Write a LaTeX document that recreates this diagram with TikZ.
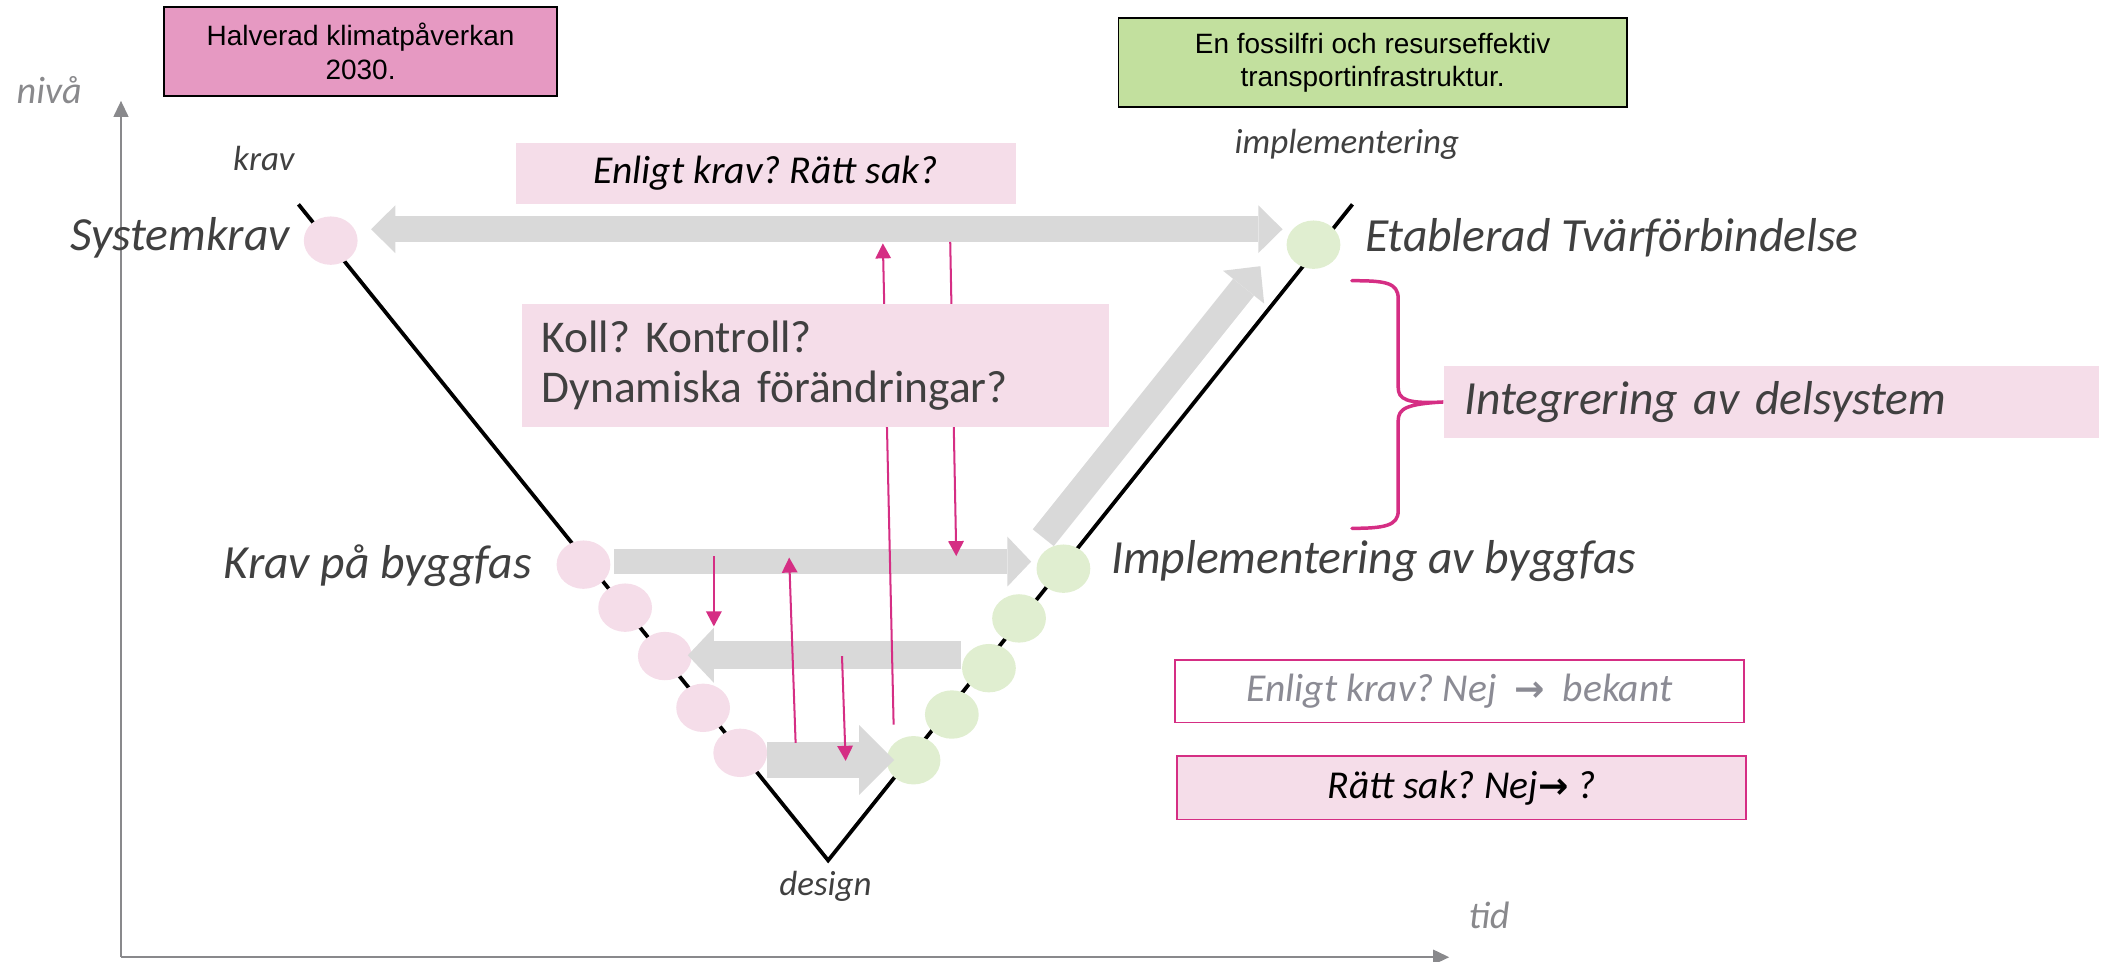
\documentclass[tikz,border=0pt]{standalone}
\usepackage{fontspec}
\setmainfont{Carlito}
\newfontfamily\arialfont{Liberation Sans}
\newfontfamily\arrowfont{DejaVu Sans}
\usepackage{tikz}
\usetikzlibrary{arrows.meta, shapes.geometric, positioning}
\frenchspacing

\definecolor{reqpink}{RGB}{245,221,233}
\definecolor{imppale}{RGB}{224,238,208}
\definecolor{goalpink}{RGB}{230,153,194}
\definecolor{goalgreen}{RGB}{194,224,158}
\definecolor{flowgray}{RGB}{217,217,217}
\definecolor{checkred}{RGB}{213,46,132}
\definecolor{axisgray}{RGB}{137,137,140}
\definecolor{labelgray}{RGB}{64,64,64}
\definecolor{hintgray}{RGB}{139,139,148}

\newcommand{\nejarrow}{{\arrowfont\bfseries\fontsize{13.5}{14}\selectfont →}}

\begin{document}
\begin{tikzpicture}[x=0.5pt, y=-0.5pt,
	reqdot/.style={ellipse, fill=reqpink, minimum width=20pt, minimum height=18pt, inner sep=0pt, outer sep=0pt},
	impdot/.style={reqdot, fill=imppale},
	phase/.style={inner sep=0pt, text=labelgray, font=\fontsize{17.7}{20}\selectfont\itshape},
	corner/.style={inner sep=0pt, text=labelgray, font=\fontsize{13}{15}\selectfont\itshape},
	axislabel/.style={inner sep=0pt, text=axisgray, font=\fontsize{14.2}{17}\selectfont\itshape},
	goal/.style={draw=black, line width=0.6pt, align=center, inner sep=0pt, font=\arialfont\fontsize{10.4}{12.4}\selectfont},
	question/.style={fill=reqpink, inner sep=0pt, font=\fontsize{14.7}{17}\selectfont\itshape},
	verdict/.style={question, draw=checkred, line width=0.6pt},
	flow/.style n args={3}{draw=flowgray, line width=#1, >={Triangle[width=#2, length=#3, line width=0pt]}, ->},
	check/.style={draw=checkred, line width=0.75pt, -{Triangle[width=5.7pt, length=5.6pt]}},
	axis/.style={draw=axisgray, line width=0.8pt, -{Triangle[width=5.5pt, length=6pt]}},
	vline/.style={draw=black, line width=1.4pt},
	brace/.style={draw=checkred, line width=1.3pt, line cap=round}]
	\useasboundingbox (0,0) rectangle (1568,715);

	\coordinate (origin) at (90,712);
	\coordinate (ytop) at (90,75);
	\coordinate (xend) at (1078,712);
	\draw[axis] (origin) -- (ytop);
	\draw[axis] (origin) -- (xend);
	\node[axislabel, anchor=base west] (niva) at (12,77) {nivå};
	\node[axislabel, anchor=base west] (tid) at (1092,691) {tid};

	\coordinate (vtopl) at (222,152);
	\coordinate (vbottom) at (616,640);
	\coordinate (vtopr) at (1006,152);
	\draw[vline] (vtopl) -- (vbottom) -- (vtopr);

	\node[reqdot] (sk) at (246,179) {};
	\node[reqdot] (r1) at (434,420) {};
	\node[reqdot] (r2) at (465,452) {};
	\node[reqdot] (r3) at (494.5,488) {};
	\node[reqdot] (r4) at (523,526.5) {};
	\node[reqdot] (r5) at (550.6,560) {};
	\node[impdot] (et) at (977,182) {};
	\node[impdot] (i1) at (791,423) {};
	\node[impdot] (i2) at (758,460) {};
	\node[impdot] (i3) at (735.6,497) {};
	\node[impdot] (i4) at (708,531.5) {};
	\node[impdot] (i5) at (679.5,565.5) {};

	\draw[flow={9.5pt}{17.75pt}{9pt}, <->] ([shift={(10,-8.5)}]sk.east) -- ([shift={(-3,-11.5)}]et.west);
	\draw[flow={9.25pt}{18.5pt}{8.8pt}] ([shift={(2.8,-2.25)}]r1.east) -- ([shift={(-4,-5.25)}]i1.west);
	\draw[flow={10.5pt}{20.5pt}{9.7pt}] ([shift={(-0.6,-9.6)}]i3.west) -- ([shift={(-2.9,-0.6)}]r3.east);
	\draw[flow={13.3pt}{26pt}{13pt}] ([shift={(0,5.3)}]r5.east) -- ([shift={(5.5,-0.2)}]i5.west);
	\draw[flow={10pt}{19.6pt}{10pt}] ([shift={(-15,-23)}]i1.center) -- ([shift={(-39.5,16)}]et.center);

	\coordinate (q1a) at (531,413.7);
	\coordinate (q1b) at (531,466);
	\coordinate (q2a) at (591.8,552.6);
	\coordinate (q2b) at (587,414.7);
	\coordinate (q3a) at (626.3,488);
	\coordinate (q3b) at (629,566);
	\coordinate (q4a) at (664.7,539);
	\coordinate (q4b) at (656.7,181);
	\coordinate (q5a) at (706.8,180);
	\coordinate (q5b) at (711.3,413.7);
	\draw[check] (q1a) -- (q1b);
	\draw[check] (q2a) -- (q2b);
	\draw[check] (q3a) -- (q3b);
	\draw[check] (q4a) -- (q4b);
	\draw[check] (q5a) -- (q5b);

	\node[fill=reqpink, text=labelgray, align=left, text width=203.3pt, inner xsep=7.5pt, inner ysep=0pt, minimum height=45.65pt, font=\fontsize{16.9}{18.6}\selectfont] (koll) at (606.3,271.85) {Koll? Kontroll?\\Dynamiska förändringar?};
	\node[question, minimum width=185.9pt, minimum height=22.9pt] (enkrav) at (569.5,129) {Enligt krav? Rätt sak?};
	\node[phase, fill=reqpink, align=left, text width=228.5pt, inner xsep=7.5pt, inner ysep=0pt, minimum height=27pt] (intg) at (1317.5,299) {Integrering av delsystem};
	\node[verdict, fill=white, text=hintgray, minimum width=211.5pt, minimum height=23.2pt] (nej) at (1085.5,514.2) {Enligt krav? Nej~~\nejarrow~~bekant};
	\node[verdict, minimum width=211.5pt, minimum height=23.5pt] (ratt) at (1087.2,586) {Rätt sak? Nej\nejarrow~?};
	\node[goal, fill=goalpink, minimum width=146pt, minimum height=33.2pt] (halv) at (268.2,38.2) {Halverad klimatpåverkan\\2030.};
	\node[goal, fill=goalgreen, minimum width=189pt, minimum height=32.9pt] (fossil) at (1021,46.5) {En fossilfri och resurseffektiv\\transportinfrastruktur.};

	\draw[brace] (1005.6,208.8) .. controls (1030,208.8) and (1040,210) .. (1040,222) -- (1040,288) .. controls (1040,297) and (1046,300.5) .. (intg.west)
		.. controls (1046,300.5) and (1040,304) .. (1040,313) -- (1040,380) .. controls (1040,391) and (1030,393) .. (1005.6,393);

	\node[corner, anchor=base west] (kravlbl) at (173,126.5) {krav};
	\node[corner, anchor=base west] (impllbl) at (918,114) {implementering};
	\node[corner, anchor=base] (designlbl) at (614,666) {design};
	\node[phase, anchor=base east] (sklbl) at ([shift={(-10,7)}]sk.west) {Systemkrav};
	\node[phase, anchor=base west] (etlbl) at ([shift={(18,5)}]et.east) {Etablerad Tvärförbindelse};
	\node[phase, anchor=base east] (r1lbl) at ([shift={(-18,10)}]r1.west) {Krav på byggfas};
	\node[phase, anchor=base west] (i1lbl) at ([shift={(15,3.5)}]i1.east) {Implementering av byggfas};
\end{tikzpicture}
\end{document}
